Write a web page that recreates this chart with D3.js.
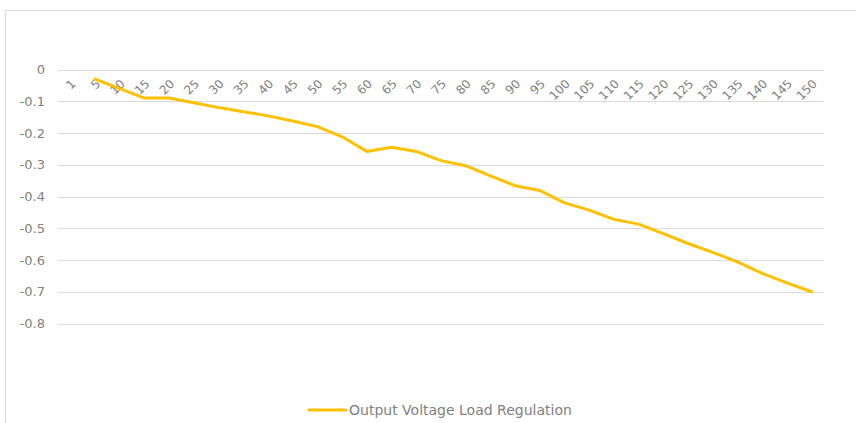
<!DOCTYPE html>
<html>
<head>
<meta charset="utf-8">
<script src="https://cdn.jsdelivr.net/npm/d3@7"></script>
<style>
  body { margin: 0; background: #fff; }
  text { font-family: "DejaVu Sans", sans-serif; fill: #808080; }
</style>
</head>
<body>
<script>
// categories along x (load points)
var categories = ["1","5","10","15","20","25","30","35","40","45","50","55","60","65","70","75",
  "80","85","90","95","100","105","110","115","120","125","130","135","140","145","150"];
// measured values, first point has no reading
var values = [null,-0.03,-0.06,-0.09,-0.09,-0.105,-0.12,-0.133,-0.146,-0.162,-0.18,-0.212,-0.258,-0.245,-0.258,-0.287,
  -0.303,-0.335,-0.366,-0.381,-0.42,-0.443,-0.472,-0.487,-0.517,-0.548,-0.576,-0.606,-0.642,-0.672,-0.7];
var yTicks = [0,-0.1,-0.2,-0.3,-0.4,-0.5,-0.6,-0.7,-0.8];
var seriesName = "Output Voltage Load Regulation";

var width = 856, height = 423;
var svg = d3.select("body").append("svg")
    .attr("width", width)
    .attr("height", height);

// chart frame
svg.append("rect")
    .attr("x", 5.5).attr("y", 10.5)
    .attr("width", 900).attr("height", 500)
    .attr("fill", "none")
    .attr("stroke", "#d9d9d9");

var left = 58, right = 824;
var x = d3.scaleBand().domain(categories).range([left, right]);
var y = d3.scaleLinear().domain([0, -0.8]).range([69.5, 323.5]);

// gridlines
svg.append("g").selectAll("line")
    .data(yTicks)
    .enter().append("line")
    .attr("x1", left).attr("x2", right)
    .attr("y1", function(d){ return Math.round(y(d)) + 0.5; })
    .attr("y2", function(d){ return Math.round(y(d)) + 0.5; })
    .attr("stroke", "#d9d9d9")
    .attr("stroke-width", 1);

// y labels (plain hyphen, like the original)
svg.append("g").selectAll("text")
    .data(yTicks)
    .enter().append("text")
    .attr("x", 45)
    .attr("y", function(d){ return y(d); })
    .attr("dy", "0.35em")
    .attr("text-anchor", "end")
    .attr("font-size", 13)
    .text(function(d){ return d === 0 ? "0" : d.toFixed(1); });

// category labels, rotated, just under the zero line
svg.append("g").selectAll("text")
    .data(categories)
    .enter().append("text")
    .attr("transform", function(d){
        var cx = x(d) + x.bandwidth()/2;
        return "translate(" + (cx + 6) + "," + (y(0) + 15) + ") rotate(-45)";
    })
    .attr("text-anchor", "end")
    .attr("font-size", 12)
    .text(function(d){ return d; });

// series line
var line = d3.line()
    .defined(function(d){ return d != null; })
    .x(function(d, i){ return x(categories[i]) + x.bandwidth()/2; })
    .y(function(d){ return y(d); });

svg.append("path")
    .datum(values)
    .attr("d", line)
    .attr("fill", "none")
    .attr("stroke", "#FFC000")
    .attr("stroke-width", 3)
    .attr("stroke-linejoin", "round")
    .attr("stroke-linecap", "round");

// legend
var legend = svg.append("g").attr("transform", "translate(309,410)");
legend.append("line")
    .attr("x1", 0).attr("x2", 37)
    .attr("y1", 0).attr("y2", 0)
    .attr("stroke", "#FFC000")
    .attr("stroke-width", 3)
    .attr("stroke-linecap", "round");
legend.append("text")
    .attr("x", 40)
    .attr("dy", "0.35em")
    .attr("font-size", 14)
    .text(seriesName);
</script>
</body>
</html>
